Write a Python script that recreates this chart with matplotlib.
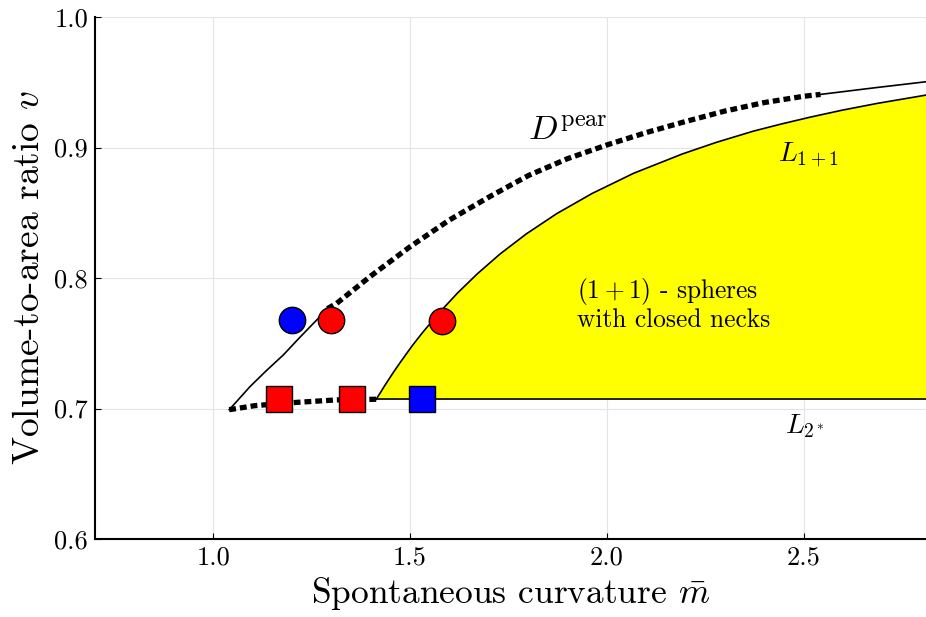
import matplotlib
matplotlib.use("Agg")
import matplotlib.pyplot as plt

plt.rcParams['font.family'] = 'serif'
plt.rcParams['font.serif'] = ['cmr10', 'DejaVu Serif']
plt.rcParams['mathtext.fontset'] = 'cm'
plt.rcParams['axes.formatter.use_mathtext'] = True

# L_{1+1}: граница области (1+1)-сфер
l11_m = [1.4142, 1.4144, 1.4154, 1.4172, 1.4198, 1.4231, 1.4272, 1.4320, 1.4437,
         1.4583, 1.4759, 1.4964, 1.5077, 1.5330, 1.5774, 1.6208, 1.6710, 1.7288,
         1.7956, 1.8727, 1.9623, 2.0672, 2.1908, 2.2760, 2.3711, 2.4409, 2.5164,
         2.5984, 2.6877, 2.7853, 2.81]
l11_v = [0.7071, 0.7072, 0.7077, 0.7086, 0.7099, 0.7115, 0.7134, 0.7158, 0.7213,
         0.7280, 0.7357, 0.7443, 0.7490, 0.7587, 0.7745, 0.7886, 0.8033, 0.8185,
         0.8339, 0.8494, 0.8648, 0.8802, 0.8950, 0.9038, 0.9125, 0.9179, 0.9233,
         0.9287, 0.9339, 0.9389, 0.9402]

# L_{2*}
l2_m = [1.4142, 2.81]
l2_v = [0.7071, 0.7071]

# нижняя пунктирная ветка
low_m = [1.0407, 1.106, 1.212, 1.3137, 1.4153]
low_v = [0.6991, 0.7022, 0.7047, 0.7066, 0.7071]

# D^pear: сплошной кусок, пунктир, сплошной кусок
dp1_m = [1.0407, 1.06, 1.0933, 1.135, 1.178, 1.22, 1.2628, 1.29]
dp1_v = [0.6991, 0.7055, 0.7167, 0.7290, 0.7410, 0.7545, 0.7678, 0.7765]

dp2_m = [1.29, 1.3137, 1.40, 1.5, 1.6, 1.7, 1.8, 1.9, 2.0, 2.1, 2.2, 2.3,
         2.4, 2.5, 2.5422]
dp2_v = [0.7765, 0.7806, 0.8015, 0.8240, 0.8445, 0.8620, 0.8785, 0.8915, 0.9020,
         0.9115, 0.9200, 0.9280, 0.9345, 0.9393, 0.9407]

dp3_m = [2.5422, 2.68, 2.81]
dp3_v = [0.9407, 0.9458, 0.9504]

# точки
circ_m = [1.2008, 1.299, 1.5806]
circ_v = [0.7678, 0.7680, 0.7670]
circ_c = ['#0000ff', '#ff0000', '#ff0000']

sq_m = [1.168, 1.3526, 1.531]
sq_v = [0.7073, 0.7073, 0.7073]
sq_c = ['#ff0000', '#ff0000', '#0000ff']

fig = plt.figure(figsize=(9.26, 6.17), dpi=100)
ax = fig.add_axes([0.1026, 0.1264, 0.8974, 0.846])

ax.fill_between(l11_m, l11_v, 0.7071, color='#ffff00', lw=0, zorder=1)
ax.plot(l11_m, l11_v, color='black', lw=1.2, zorder=2)
ax.plot(l2_m, l2_v, color='black', lw=1.2, zorder=2)

dot = (0, (1.3, 0.75))
ax.plot(low_m, low_v, color='black', lw=3.8, ls=dot, dash_capstyle='butt', zorder=2)
ax.plot(dp1_m, dp1_v, color='black', lw=1.2, zorder=2)
ax.plot(dp2_m, dp2_v, color='black', lw=3.8, ls=dot, dash_capstyle='butt', zorder=2)
ax.plot(dp3_m, dp3_v, color='black', lw=1.2, zorder=2)

for m, v, c in zip(circ_m, circ_v, circ_c):
    ax.plot(m, v, 'o', ms=19, mfc=c, mec='black', mew=1.0, zorder=5)
for m, v, c in zip(sq_m, sq_v, sq_c):
    ax.plot(m, v, 's', ms=19, mfc=c, mec='black', mew=1.0, zorder=5)

ax.text(1.9, 0.9057, r'$D^{\rm pear}$', fontsize=25, ha='center', va='baseline')
ax.text(2.433, 0.889, r'$L_{1+1}$', fontsize=20, ha='left', va='baseline')
ax.text(2.453, 0.681, r'$L_{2^*}$', fontsize=20, ha='left', va='baseline')
ax.text(1.925, 0.7627, '$(1+1)$ - spheres\nwith closed necks', fontsize=18.3,
        ha='left', va='baseline', linespacing=1.05)

ax.set_xlim(0.7, 2.81)
ax.set_ylim(0.6, 1.0)
ax.set_xticks([1.0, 1.5, 2.0, 2.5])
ax.set_yticks([0.6, 0.7, 0.8, 0.9, 1.0])
ax.set_xticklabels(['1.0', '1.5', '2.0', '2.5'])
ax.set_yticklabels(['0.6', '0.7', '0.8', '0.9', '1.0'])
ax.tick_params(direction='in', length=4, width=0.8, labelsize=19, pad=5)
ax.grid(True, color='#e4e4e4', lw=0.8, zorder=0)
ax.set_axisbelow(True)

for s in ['top', 'right']:
    ax.spines[s].set_visible(False)
for s in ['left', 'bottom']:
    ax.spines[s].set_linewidth(1.5)

ax.set_xlabel(r'Spontaneous curvature $\bar{m}$', fontsize=25.5, labelpad=4)
ax.set_ylabel(r'Volume-to-area ratio $v$', fontsize=27, labelpad=6)

fig.savefig('out.png', dpi=100)
